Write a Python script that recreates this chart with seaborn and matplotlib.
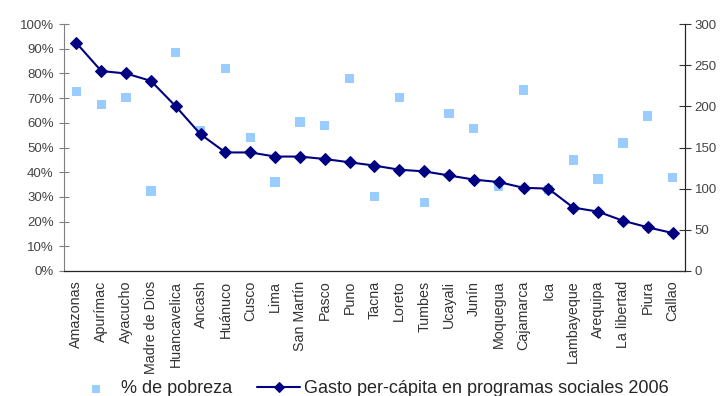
import pandas as pd
import seaborn as sns
import matplotlib.pyplot as plt
from matplotlib.ticker import PercentFormatter, FixedLocator

# Datos por departamento (ordenados por gasto per-cápita)
regiones = ['Amazonas', 'Apurímac', 'Ayacucho', 'Madre de Dios', 'Huancavelica',
            'Ancash', 'Huánuco', 'Cusco', 'Lima', 'San Martín', 'Pasco', 'Puno',
            'Tacna', 'Loreto', 'Tumbes', 'Ucayali', 'Junín', 'Moquegua',
            'Cajamarca', 'Ica', 'Lambayeque', 'Arequipa', 'La libertad',
            'Piura', 'Callao']
pobreza = [72.7, 67.3, 70.3, 32.4, 88.5, 56.8, 82.1, 54.1, 36.0, 60.3, 59.0, 78.0,
           30.1, 70.3, 27.8, 63.8, 57.6, 34.1, 73.3, 33.1, 44.9, 37.2, 51.8,
           62.8, 37.8]
gasto = [277, 243, 240, 231, 200, 166, 144, 144, 139, 139, 136, 132,
         128, 123, 121, 116, 111, 108, 101, 100, 77, 72, 61, 53, 46]

df = pd.DataFrame({'region': regiones, 'pobreza': pobreza, 'gasto': gasto})

sns.set_style('white')
plt.rcParams['font.family'] = ['Liberation Sans', 'DejaVu Sans']

fig, ax = plt.subplots(figsize=(7.21, 3.96), dpi=100)
fig.subplots_adjust(left=0.0888, right=0.950, top=0.939, bottom=0.316)
ax2 = ax.twinx()

sns.scatterplot(data=df, x='region', y='pobreza', ax=ax, marker='s', s=45,
                color='#99CCFF', edgecolor='none', label='% de pobreza', legend=False)
sns.lineplot(data=df, x='region', y='gasto', ax=ax2, marker='D', markersize=6.5,
             color='#000080', linewidth=1.5, markeredgecolor='#000080',
             label='Gasto per-cápita en programas sociales 2006', legend=False)

n = len(regiones)
ax.set_xlim(-0.5, n - 0.5)
ax.set_ylim(0, 100)
ax2.set_ylim(0, 300)
ax.set_xlabel('')
ax.set_ylabel('')
ax2.set_ylabel('')

ax.yaxis.set_major_locator(FixedLocator(range(0, 101, 10)))
ax.yaxis.set_major_formatter(PercentFormatter(decimals=0))
ax2.yaxis.set_major_locator(FixedLocator(range(0, 301, 50)))

ax.set_xticks(range(n))
ax.set_xticklabels(regiones, rotation=90, fontsize=10.3, color='#333333')
ax.set_xticks([i - 0.5 for i in range(n + 1)], minor=True)
ax.tick_params(axis='x', which='major', length=0, pad=7)
ax.tick_params(axis='x', which='minor', direction='inout', length=5, width=0.8, color='#333333')
ax.tick_params(axis='y', direction='inout', length=7, width=0.8, color='#808080',
               labelsize=9.5, labelcolor='#444444', pad=4)
ax2.tick_params(axis='y', direction='inout', length=8, width=0.8, color='#333333',
                labelsize=9.5, labelcolor='#444444', pad=3)

for a in (ax, ax2):
    a.spines['top'].set_visible(False)
ax.spines['left'].set_color('#808080')
ax.spines['bottom'].set_color('#222222')
ax2.spines['right'].set_color('#222222')
ax2.spines['left'].set_visible(False)
ax2.spines['bottom'].set_visible(False)
ax.spines['bottom'].set_linewidth(0.9)

h1, l1 = ax.get_legend_handles_labels()
h2, l2 = ax2.get_legend_handles_labels()
fig.legend(h1 + h2, l1 + l2, loc='center', bbox_to_anchor=(0.515, 0.018), ncol=2,
           frameon=False, fontsize=13, handlelength=2.4, handletextpad=0.17,
           columnspacing=1.4, markerscale=0.85)

fig.savefig('out.png', dpi=100)
